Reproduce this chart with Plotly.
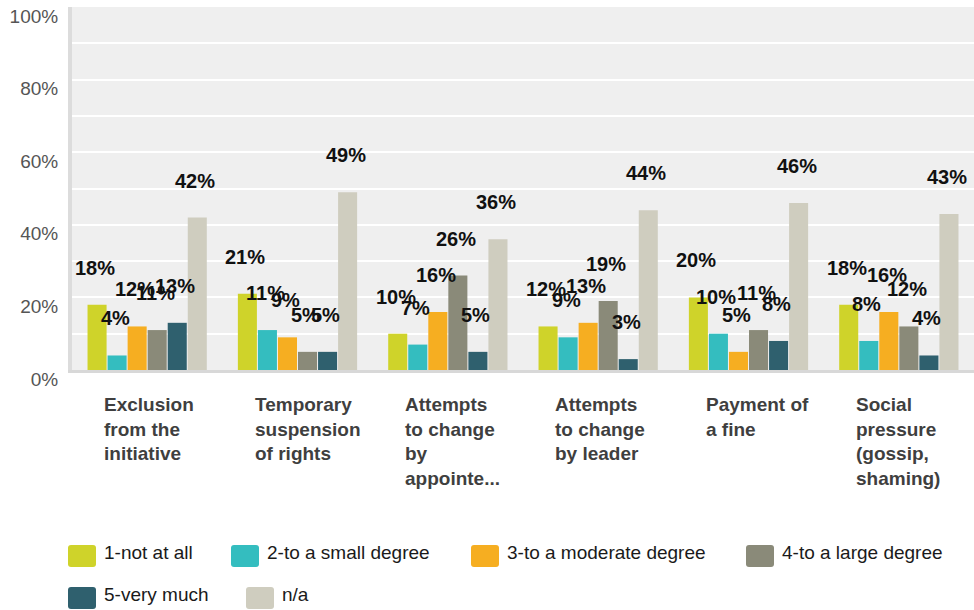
import plotly.graph_objects as go

# ---- data -------------------------------------------------------------
categories = [
    "Exclusion<br>from the<br>initiative",
    "Temporary<br>suspension<br>of rights",
    "Attempts<br>to change<br>by<br>appointe...",
    "Attempts<br>to change<br>by leader",
    "Payment of<br>a fine",
    "Social<br>pressure<br>(gossip,<br>shaming)",
]
series_names = [
    "1-not at all",
    "2-to a small degree",
    "3-to a moderate degree",
    "4-to a large degree",
    "5-very much",
    "n/a",
]
not_at_all = [18, 21, 10, 12, 20, 18]
small_degree = [4, 11, 7, 9, 10, 8]
moderate_degree = [12, 9, 16, 13, 5, 16]
large_degree = [11, 5, 26, 19, 11, 12]
very_much = [13, 5, 5, 3, 8, 4]
not_applicable = [42, 49, 36, 44, 46, 43]
y_ticks = [0, 20, 40, 60, 80, 100]
y_tick_labels = ["0%", "20%", "40%", "60%", "80%", "100%"]

series_values = [not_at_all, small_degree, moderate_degree,
                 large_degree, very_much, not_applicable]
colors = ["#CFD32A", "#34BDBF", "#F6AE21", "#8A8A79", "#2F606E", "#CFCDBF"]

# ---- geometry ---------------------------------------------------------
W, H = 974, 610
ML, MR, MT, MB = 72, 0, 7, 240
PW, PH = W - ML - MR, H - MT - MB
BARGAP = 0.2
N = len(series_names)
FONT = "Liberation Sans, Arial, sans-serif"


def px_x(x):
    return (x - ML) / PW


def px_y(y):
    return (H - MB - y) / PH


fig = go.Figure()
for name, vals, col in zip(series_names, series_values, colors):
    fig.add_trace(go.Bar(
        x=list(range(len(categories))), y=vals, name=name,
        marker=dict(color=col, line=dict(width=0)),
        showlegend=False, hoverinfo="skip",
    ))

annotations = []

# value labels above each bar
slot = (1 - BARGAP) / N
for i, vals in enumerate(series_values):
    for c, v in enumerate(vals):
        annotations.append(dict(
            x=c + (i - (N - 1) / 2) * slot, y=v, xref="x", yref="y",
            text=f"{v}%", showarrow=False, xanchor="center", yanchor="middle",
            yshift=37, xshift=-2,
            font=dict(family=FONT, size=20, color="#111111", weight="bold"),
        ))

# category labels, left aligned under each group
for c, cat in enumerate(categories):
    annotations.append(dict(
        x=c, y=0, xref="x", yref="paper", text=f"<b>{cat}</b>",
        showarrow=False, xanchor="left", yanchor="top", align="left",
        xshift=-45, yshift=-22,
        font=dict(family=FONT, size=19, color="#3F3F3F"),
    ))

# legend: rounded swatches with text
legend_pos = [(68, 556), (231, 556), (471, 556), (746, 556), (68, 598), (246, 598)]
shapes = []
swatch = ("M -11,-11 L 11,-11 Q 14,-11 14,-8 L 14,8 Q 14,11 11,11 "
          "L -11,11 Q -14,11 -14,8 L -14,-8 Q -14,-11 -11,-11 Z")
for (lx, ly), name, col in zip(legend_pos, series_names, colors):
    shapes.append(dict(
        type="path", xref="paper", yref="paper",
        xsizemode="pixel", ysizemode="pixel",
        xanchor=px_x(lx + 14), yanchor=px_y(ly),
        path=swatch, fillcolor=col, line=dict(width=0),
    ))
    annotations.append(dict(
        x=px_x(lx + 34), y=px_y(ly - 4), xref="paper", yref="paper",
        text=name, showarrow=False, xanchor="left", yanchor="middle",
        font=dict(family=FONT, size=19, color="#1A1A1A"),
    ))

fig.update_layout(
    width=W, height=H,
    margin=dict(l=ML, r=MR, t=MT, b=MB),
    paper_bgcolor="white", plot_bgcolor="#EFEFEF",
    barmode="group", bargap=BARGAP, bargroupgap=0.05,
    showlegend=False,
    annotations=annotations, shapes=shapes,
    font=dict(family=FONT),
    xaxis=dict(
        type="category", range=[-0.5, len(categories) - 0.5],
        showticklabels=False, ticks="", showgrid=False, zeroline=False,
        showline=True, linecolor="#D8D8D8", linewidth=3,
    ),
    yaxis=dict(
        range=[0, 100], tickvals=y_ticks, ticktext=y_tick_labels,
        showgrid=True, gridcolor="white", gridwidth=2,
        minor=dict(dtick=10, showgrid=True, gridcolor="white", gridwidth=2),
        zeroline=False, ticks="",
        showline=True, linecolor="#DCDCDC", linewidth=4,
        tickfont=dict(family=FONT, size=19, color="#555555"),
        ticklabelshift=9, ticklabelstandoff=6,
    ),
)

fig.write_html("out.html")
